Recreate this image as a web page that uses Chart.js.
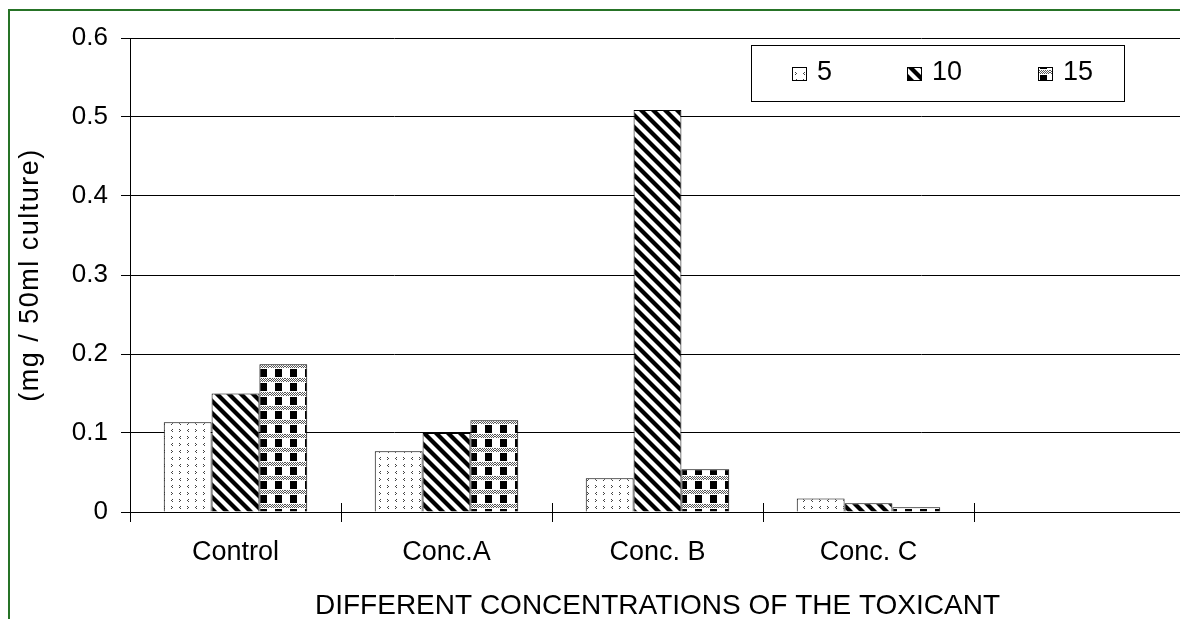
<!DOCTYPE html>
<html>
<head>
<meta charset="utf-8">
<script src="https://cdn.jsdelivr.net/npm/chart.js@4/dist/chart.umd.min.js"></script>
<style>
  html, body { margin: 0; padding: 0; background: #fff; overflow: hidden; }
  #wrap { position: relative; width: 1180px; height: 619px; overflow: hidden; }
  #frame { position: absolute; left: 8px; top: 9px; width: 1300px; height: 800px;
           border: 2px solid #267326; box-sizing: border-box; pointer-events: none; }
  canvas { position: absolute; left: 0; top: 0; }
</style>
</head>
<body>
<div id="wrap">
  <canvas id="chart" width="1192" height="619"></canvas>
  <div id="frame"></div>
</div>
<script>
/* ── Data ─────────────────────────────────────────────── */
const categories = ['Control', 'Conc.A', 'Conc. B', 'Conc. C', ''];
const seriesLabels = ['5', '10', '15'];
const values5  = [0.1135, 0.077, 0.0426, 0.017, null];
const values10 = [0.150, 0.100, 0.509, 0.011, null];
const values15 = [0.187, 0.116, 0.054, 0.006, null];
const yTicks = [0, 0.1, 0.2, 0.3, 0.4, 0.5, 0.6];
const yTitle = '(mg / 50ml culture)';
const xTitle = 'DIFFERENT CONCENTRATIONS OF THE TOXICANT';

const FONT = '"Liberation Sans", Arial, sans-serif';

/* ── Fill patterns ────────────────────────────────────── */
function makePattern(w, h, draw) {
  const c = document.createElement('canvas');
  c.width = w; c.height = h;
  const g = c.getContext('2d');
  g.fillStyle = '#fff';
  g.fillRect(0, 0, w, h);
  draw(g);
  return g.createPattern(c, 'repeat');
}

// sparse "< >" marks
const patDots = makePattern(16, 14, g => {
  g.fillStyle = '#444';
  const chev = (x, y, dir) => {
    // 3px tall chevron, dir 1 = "<", -1 = ">"
    g.fillRect(x + (dir > 0 ? 1 : 0), y, 1, 1);
    g.fillRect(x + (dir > 0 ? 0 : 1), y + 1, 1, 1);
    g.fillRect(x + (dir > 0 ? 1 : 0), y + 2, 1, 1);
  };
  chev(3, 2, 1);
  chev(11, 2, -1);
  chev(11, 9, 1);
  chev(3, 9, -1);
});

// diagonal stripes, top-left to bottom-right
const patStripes = makePattern(12, 12, g => {
  g.fillStyle = '#000';
  for (let k = -12; k <= 12; k += 12) {
    g.beginPath();
    g.moveTo(k, 0);
    g.lineTo(k + 6, 0);
    g.lineTo(k + 18, 12);
    g.lineTo(k + 12, 12);
    g.closePath();
    g.fill();
  }
});

// black checks with grey dotted bands
const patChecks = makePattern(15, 14, g => {
  for (let y = 0; y < 4; y++) {
    for (let x = 0; x < 15; x++) {
      if ((x + y) % 2 === 0) { g.fillStyle = '#555'; g.fillRect(x, y, 1, 1); }
    }
  }
  g.fillStyle = '#000';
  g.fillRect(5, 5, 7, 8);
});

const patterns = [patDots, patStripes, patChecks];

/* ── Plugins ──────────────────────────────────────────── */
const crossTicks = {
  id: 'crossTicks',
  afterDraw(chart) {
    const { ctx, scales: { x }, chartArea } = chart;
    ctx.save();
    ctx.strokeStyle = '#000';
    ctx.lineWidth = 1;
    for (let i = 0; i <= categories.length; i++) {
      const px = Math.round(x.getPixelForValue(i - 0.5)) + 0.5;
      ctx.beginPath();
      ctx.moveTo(px, chartArea.bottom - 9);
      ctx.lineTo(px, chartArea.bottom);
      ctx.stroke();
    }
    ctx.restore();
  },
};

const sideTitle = {
  id: 'sideTitle',
  afterDraw(chart) {
    const { ctx } = chart;
    ctx.save();
    ctx.translate(31, 275);
    ctx.rotate(-Math.PI / 2);
    ctx.font = `27px ${FONT}`;
    ctx.letterSpacing = '1.5px';
    ctx.fillStyle = '#000';
    ctx.textAlign = 'center';
    ctx.textBaseline = 'middle';
    ctx.fillText(yTitle, 0, 0);
    ctx.restore();
  },
};

const boxLegend = {
  id: 'boxLegend',
  afterDraw(chart) {
    const { ctx } = chart;
    const bx = 751.5, by = 45.5, bw = 373, bh = 56;
    ctx.save();
    ctx.fillStyle = '#fff';
    ctx.fillRect(bx, by, bw, bh);
    ctx.strokeStyle = '#000';
    ctx.lineWidth = 1;
    ctx.strokeRect(bx, by, bw, bh);
    const itemX = [792, 907, 1038];
    ctx.font = `27px ${FONT}`;
    ctx.textBaseline = 'middle';
    chart.data.datasets.forEach((ds, i) => {
      const mx = itemX[i], my = 67;
      ctx.fillStyle = ds.backgroundColor;
      ctx.fillRect(mx, my, 15, 14);
      ctx.strokeStyle = '#000';
      ctx.strokeRect(mx + 0.5, my + 0.5, 14, 13);
      ctx.fillStyle = '#000';
      ctx.fillText(ds.label, mx + 25, 73);
    });
    ctx.restore();
  },
};

/* ── Chart ────────────────────────────────────────────── */
const ctx = document.getElementById('chart').getContext('2d');
new Chart(ctx, {
  type: 'bar',
  data: {
    labels: categories,
    datasets: [values5, values10, values15].map((vals, i) => ({
      label: seriesLabels[i],
      data: vals,
      backgroundColor: patterns[i],
      borderColor: '#000',
      borderWidth: 1,
      borderSkipped: 'bottom',
      categoryPercentage: 0.68,
      barPercentage: 1.0,
    })),
  },
  options: {
    responsive: false,
    animation: false,
    layout: { padding: { top: 38, right: 7, left: 0, bottom: 0 } },
    plugins: {
      legend: { display: false },
      tooltip: { enabled: false },
    },
    scales: {
      x: {
        offset: true,
        grid: {
          offset: true,
          drawOnChartArea: false,
          color: '#000',
          tickLength: 10,
          tickColor: '#000',
        },
        border: { color: '#000', width: 1 },
        ticks: {
          color: '#000',
          font: { family: FONT, size: 27 },
          padding: 14,
          maxRotation: 0,
          autoSkip: false,
        },
        title: {
          display: true,
          text: xTitle,
          color: '#000',
          font: { family: FONT, size: 28, lineHeight: 1 },
          padding: { top: 0, bottom: -1 },
        },
        afterFit(scale) { scale.height = 107; },
      },
      y: {
        min: 0,
        max: 0.6,
        afterBuildTicks(scale) { scale.ticks = yTicks.map(v => ({ value: v })); },
        grid: {
          color: '#000',
          lineWidth: 1,
          tickLength: 9,
          tickColor: '#000',
        },
        border: { color: '#000', width: 1 },
        ticks: {
          color: '#000',
          font: { family: FONT, size: 26 },
          padding: 13,
          callback: v => (v === 0 ? '0' : v.toFixed(1)),
        },
        afterFit(scale) { scale.width = 130; },
      },
    },
  },
  plugins: [crossTicks, sideTitle, boxLegend],
});
</script>
</body>
</html>
